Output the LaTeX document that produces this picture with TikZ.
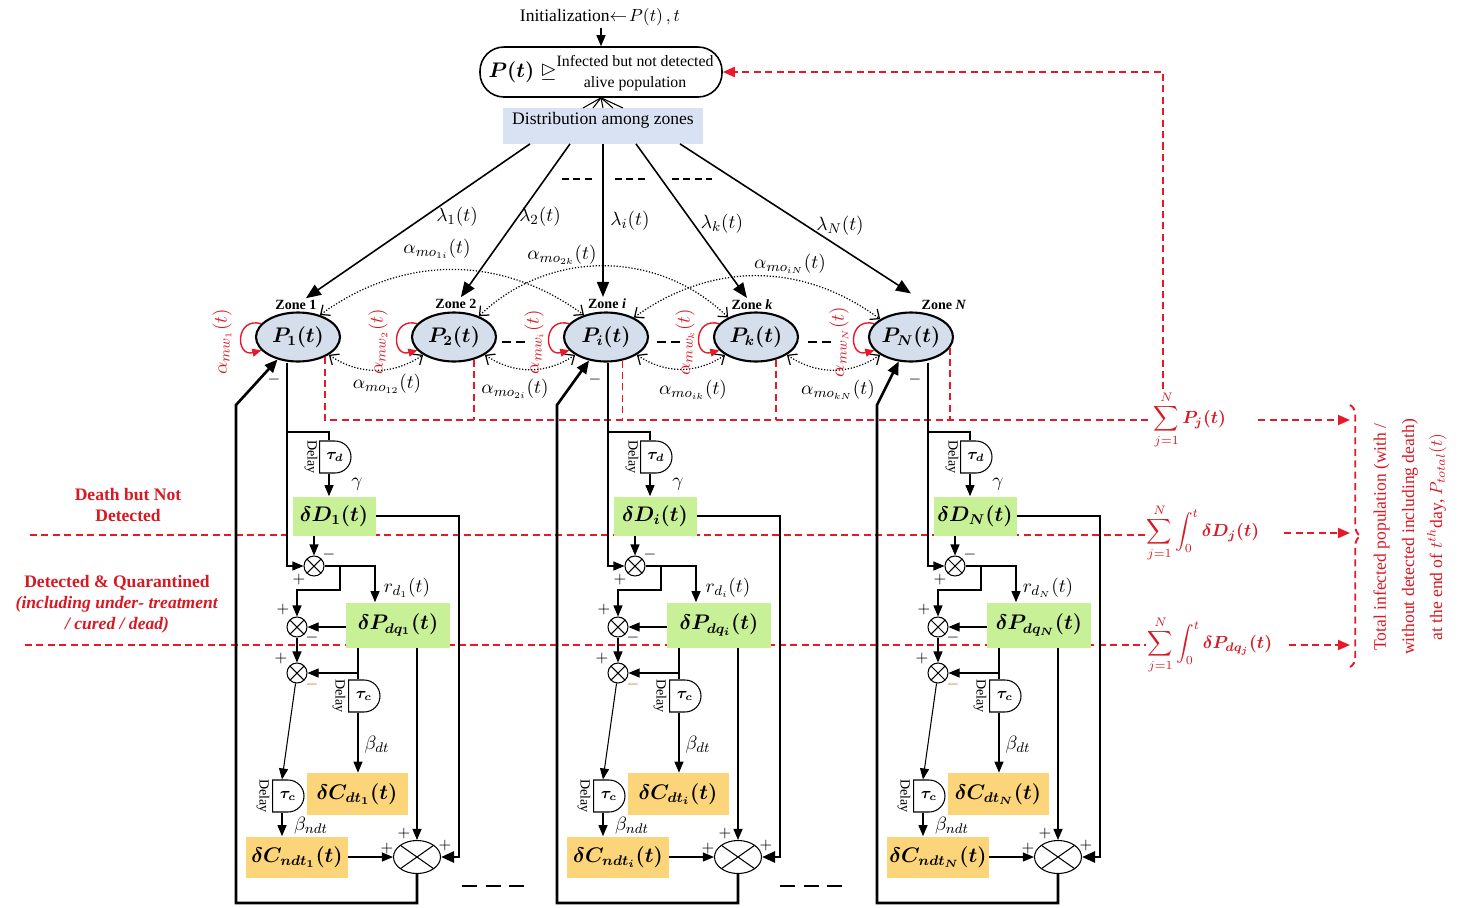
\documentclass[tikz,border=0pt]{standalone}
\usepackage{amsmath}
\usepackage{amssymb}
\usepackage{bm}
\usepackage{fontspec}
\setmainfont{Liberation Serif}
\usetikzlibrary{arrows, arrows.meta}
\usetikzlibrary{calc}
\usetikzlibrary{shapes.geometric, shapes.misc}
\usetikzlibrary{decorations.pathreplacing}

\definecolor{zonefill}{RGB}{213,222,235}
\definecolor{distfill}{RGB}{217,226,242}
\definecolor{grnfill}{RGB}{200,240,150}
\definecolor{yelfill}{RGB}{252,213,122}
\definecolor{dashred}{RGB}{232,24,40}
\definecolor{txtred}{RGB}{215,25,35}

\tikzset{
  zone/.style={ellipse, draw, line width=1.2pt, fill=zonefill, minimum width=16.8mm, minimum height=9.8mm, inner sep=0pt, font=\large},
  zonelbl/.style={font=\footnotesize\bfseries, inner sep=1pt},
  grnbox/.style={rectangle, fill=grnfill, inner sep=0pt, font=\large},
  yelbox/.style={rectangle, fill=yelfill, inner sep=0pt, font=\large},
  delaybox/.style={rounded rectangle, rounded rectangle left arc=none, draw, line width=0.6pt, minimum width=4.8mm, minimum height=6.4mm, inner sep=0pt, font=\small},
  delaytxt/.style={rotate=-90, font=\footnotesize, inner sep=0pt},
  xsum/.style={circle, draw, line width=0.6pt, minimum size=4mm, inner sep=0pt,
    path picture={\draw[line width=0.6pt] (path picture bounding box.north west) -- (path picture bounding box.south east)
      (path picture bounding box.south west) -- (path picture bounding box.north east);}},
  bigsum/.style={xsum, ellipse, minimum width=9.4mm, minimum height=6.6mm},
  wire/.style={line width=0.6pt},
  arr/.style={line width=0.6pt, -{Triangle[length=2.2mm, width=1.8mm]}},
  thkarr/.style={line width=1.5pt, -{Triangle[length=2.6mm, width=2.2mm]}},
  lamarr/.style={line width=0.9pt, -{Triangle[length=3mm, width=2.4mm]}},
  moarc/.style={densely dotted, line width=0.7pt, {Straight Barb[length=1.5mm, width=2.6mm]}-{Straight Barb[length=1.5mm, width=2.6mm]}},
  mwloop/.style={dashred, line width=0.8pt, -{Triangle[length=1.8mm, width=1.6mm]}},
  rdash/.style={dashred, line width=1.1pt, dash pattern=on 4pt off 2.5pt},
  rarr/.style={rdash, -{Triangle[length=2.4mm, width=2mm]}},
  sgn/.style={font=\small, inner sep=0pt},
  mlbl/.style={font=\fontsize{11}{13}\selectfont, inner sep=1pt},
  redlbl/.style={text=txtred, font=\bfseries, align=center},
  etcs/.style={line width=1.1pt, dash pattern=on 4pt off 2.5pt},
  etcz/.style={line width=1.5pt, dash pattern=on 5pt off 3pt},
  etcb/.style={line width=1.5pt, dash pattern=on 8.5pt off 5pt}
}

\begin{document}
\begin{tikzpicture}[x=0.2mm, y=0.2mm]
  \useasboundingbox (0,0) rectangle (1469,-907);

  % initialisation and distribution
  \node[inner sep=1pt] (init) at (600,-17) {Initialization$\leftarrow\!P(t)\,,t$};
  \node[rectangle, rounded corners=4.8mm, draw, line width=0.9pt, minimum width=48.4mm, minimum height=10mm, inner sep=1pt] (pop) at (601,-72)
    {\large$\bm{P(t)}\trianglerighteq$\begin{tabular}{@{}c@{}}\small Infected but not detected\\[-2pt] \small alive population\end{tabular}};
  \node[fill=distfill, minimum width=40mm, text depth=3mm, inner ysep=0.8mm, anchor=north] (dist) at (603,-108) {Distribution among zones};
  \draw[arr] (init.south -| pop.north) -- (pop.north);
  \foreach \dx in {-20,-10,0,10,20}
    \draw[wire] ($(dist.north)+(\dx,0)$) -- (pop.south);

  % zones
  \foreach \n/\x in {1/298, 2/454, i/606, k/756, N/911}
    \node[zone] (z\n) at (\x,-337) {$\bm{P_{\n}(t)}$};
  \node[zonelbl] (zl1) at (296,-305) {Zone 1};
  \node[zonelbl] (zl2) at (456,-304) {Zone 2};
  \node[zonelbl] (zli) at (607,-304) {Zone \textit{i}};
  \node[zonelbl] (zlk) at (752,-305) {Zone \textit{k}};
  \node[zonelbl] (zlN) at (944,-305) {Zone \textit{N}};

  \draw[lamarr] ([xshift=-14.6mm]dist.south) -- (zl1);
  \draw[lamarr] ([xshift=-6.6mm]dist.south) -- (zl2);
  \draw[lamarr] (dist.south) -- (dist.south |- zli.north);
  \draw[lamarr] ([xshift=6.6mm]dist.south) -- (zlk);
  \draw[lamarr] ([xshift=15.4mm]dist.south) -- ([yshift=3.6mm]zN.north);
  \node[mlbl] (lam1) at (457,-217) {$\lambda_1(t)$};
  \node[mlbl] (lam2) at (540,-217) {$\lambda_2(t)$};
  \node[mlbl] (lami) at (630,-221) {$\lambda_i(t)$};
  \node[mlbl] (lamk) at (722,-224) {$\lambda_k(t)$};
  \node[mlbl] (lamN) at (840,-226) {$\lambda_N(t)$};
  \draw[etcs] (562,-179) -- (593,-179);
  \draw[etcs] (615,-179) -- (646,-179);
  \draw[etcs] (672,-179) -- (712,-179);

  % movement between zones
  \draw[moarc] (z1.45) to[bend left=36] (zi.135);
  \draw[moarc] (z2.40) to[bend left=44] (zk.145);
  \draw[moarc] (zi.35) to[bend left=36] (zN.150);
  \draw[moarc] (z1.-30) to[bend right=34] (z2.-150);
  \draw[moarc] (z2.-30) to[bend right=34] (zi.-150);
  \draw[moarc] (zi.-30) to[bend right=34] (zk.-150);
  \draw[moarc] (zk.-30) to[bend right=34] (zN.-150);
  \node[mlbl] (mo1i) at (437,-249) {$\alpha_{mo_{1i}}(t)$};
  \node[mlbl] (mo2k) at (562,-255) {$\alpha_{mo_{2k}}(t)$};
  \node[mlbl] (moiN) at (790,-264) {$\alpha_{mo_{iN}}(t)$};
  \node[mlbl] (mo12) at (387,-384) {$\alpha_{mo_{12}}(t)$};
  \node[mlbl] (mo2i) at (515,-389) {$\alpha_{mo_{2i}}(t)$};
  \node[mlbl] (moik) at (693,-390) {$\alpha_{mo_{ik}}(t)$};
  \node[mlbl] (mokN) at (838,-390) {$\alpha_{mo_{kN}}(t)$};

  \foreach \n/\lx in {1/222, 2/378, i/534, k/685, N/839}{
    \draw[mwloop] (z\n.160) to[out=165, in=195, looseness=2.6] (z\n.200);
    \node[mlbl, text=txtred, rotate=90] (mw\n) at (\lx,-342) {$\alpha_{mw_{\n}}(t)$};
  }
  \draw[etcz] (502,-342) -- (525,-342);
  \draw[etcz] (657,-342) -- (680,-342);
  \draw[etcz] (808,-342) -- (832,-342);

  % totals
  \node[text=txtred, inner sep=1pt] (sumP) at (1190,-420) {$\displaystyle\sum_{j=1}^{N}\bm{P_j(t)}$};
  \node[text=txtred, inner sep=1pt] (sumD) at (1203,-533) {$\displaystyle\sum_{j=1}^{N}\int_0^t\bm{\delta D_j(t)}$};
  \node[text=txtred, inner sep=1pt] (sumQ) at (1210,-645) {$\displaystyle\sum_{j=1}^{N}\int_0^t\bm{\delta P_{dq_j}(t)}$};
  \coordinate (lD) at (30,-535);
  \coordinate (lQ) at (25,-645);
  \coordinate (brt) at (1350,-405);
  \coordinate (brb) at (1350,-667);
  \draw[rdash] (z1.-37) -- (z1.-37 |- sumP.west) -- (sumP.west);
  \foreach \n/\a in {2/-48, i/-55, k/-48, N/-15}
    \draw[rdash] (z\n.\a) -- (z\n.\a |- sumP.west);
  \draw[rarr] ([xshift=-5.4mm]sumP.north) |- (pop.east);
  \draw[rdash] (lD) -- (lD -| sumD.west);
  \draw[rdash] (lQ) -- (lQ -| sumQ.west);
  \draw[rarr, shorten <=6mm] (sumP.east) -- (sumP.east -| brt);
  \draw[rarr, shorten <=4.6mm] (sumD.east) -- (sumD.east -| brt);
  \draw[rarr, shorten <=3mm] (sumQ.east) -- (sumQ.east -| brt);
  \draw[rdash, decorate, decoration={brace, amplitude=6pt}] (brt) -- (brb);
  \node[text=txtred, rotate=90, align=center, font=\fontsize{10}{16}\selectfont] (tot) at (1410,-537)
    {Total infected population (with /\\without detected including death)\\at the end of $t^{th}$day, $P_{total}(t)$};

  \node[redlbl] (ddnd) at (128,-505) {Death but Not\\Detected};
  \node[redlbl] (dq) at (117,-604) {Detected \& Quarantined\\\textit{(including under- treatment}\\\textit{/ cured / dead)}};

  % one column per zone 1, i, N
  \foreach \col/\o in {1/0, i/321, N/641}{
    \begin{scope}[shift={(\o,0)}]
      \coordinate (br\col) at (287,-432);
      \coordinate (xd\col) at (329,-432);
      \coordinate (xb\col) at (340,-590);
      \coordinate (xr\col) at (375,-566);
      \coordinate (xc\col) at (358,-673);
      \coordinate (xn\col) at (282,-780);
      \coordinate (xe\col) at (459,-857);
      \coordinate (fb\col) at (236,-903);
      \coordinate (fu\col) at (236,-405);

      \node[delaybox] (td\col) at (335,-457) {$\bm{\tau_d}$};
      \node[delaytxt] (dla\col) at (311,-457) {Delay};
      \node[grnbox, minimum width=16.6mm, minimum height=7.8mm] (dD\col) at (334,-516) {$\bm{\delta D_{\col}(t)}$};
      \node[mlbl] (gm\col) at (357,-484) {$\gamma$};
      \node[xsum] (s1\col) at (314,-566) {};
      \node[xsum] (s2\col) at (297,-627) {};
      \node[xsum] (s3\col) at (297,-673) {};
      \node[grnbox, minimum width=20.8mm, minimum height=9mm] (dP\col) at (398,-625) {$\bm{\delta P_{dq_{\col}}(t)}$};
      \node[mlbl] (rd\col) at (407,-588) {$r_{d_{\col}}(t)$};
      \node[delaybox] (tc\col) at (364,-696) {$\bm{\tau_c}$};
      \node[delaytxt] (dlb\col) at (339,-696) {Delay};
      \node[mlbl] (bd\col) at (377,-745) {$\beta_{dt}$};
      \node[yelbox, minimum width=20.2mm, minimum height=8.4mm] (dCd\col) at (357,-794) {$\bm{\delta C_{dt_{\col}}(t)}$};
      \node[delaybox] (tn\col) at (288,-796) {$\bm{\tau_c}$};
      \node[delaytxt] (dlc\col) at (263,-796) {Delay};
      \node[mlbl] (bn\col) at (311,-826) {$\beta_{ndt}$};
      \node[yelbox, minimum width=20.4mm, minimum height=8.2mm] (dCn\col) at (297,-857) {$\bm{\delta C_{ndt_{\col}}(t)}$};
      \node[bigsum] (bs\col) at (417,-857) {};

      \node[sgn] (m1\col) at (329,-555) {$-$};
      \node[sgn] (p1\col) at (299,-580) {$+$};
      \node[sgn] (p2\col) at (283,-610) {$+$};
      \node[sgn] (m2\col) at (312,-638) {$-$};
      \node[sgn] (p3\col) at (281,-659) {$+$};
      \node[sgn, text=orange!80!black] (m3\col) at (312,-685) {$-$};
      \node[sgn] (p4\col) at (404,-834) {$+$};
      \node[sgn] (p5\col) at (387,-849) {$+$};
      \node[sgn] (p6\col) at (445,-846) {$+$};
      \node[sgn] (m4\col) at (274,-380) {$-$};

      \draw[arr] (z\col.south -| br\col) -- (br\col) |- (s1\col);
      \draw[wire] (br\col) -- (xd\col) -- (td\col.north -| xd\col);
      \draw[arr] (td\col.south -| xd\col) -- (dD\col.north -| xd\col);
      \draw[arr] (dD\col.south -| s1\col) -- (s1\col);
      \draw[arr] (s1\col) -- (xr\col) -- (xr\col |- dP\col.north);
      \draw[arr] (xb\col |- s1\col) -- (xb\col) -| (s2\col);
      \draw[arr] (dP\col.west |- s2\col) -- (s2\col);
      \draw[arr] (s2\col) -- (s3\col);
      \draw[wire] (dP\col.south -| xc\col) -- (tc\col.north -| xc\col);
      \draw[arr] (xc\col) -- (s3\col);
      \draw[arr] (tc\col.south -| xc\col) -- (dCd\col.north -| xc\col);
      \draw[arr] (s3\col) -- (tn\col.north -| xn\col);
      \draw[arr] (tn\col.south -| xn\col) -- (dCn\col.north -| xn\col);
      \draw[arr] (dCn\col) -- (bs\col);
      \draw[arr] (dP\col.south -| bs\col) -- (bs\col);
      \draw[thkarr] (dD\col.east) -| (xe\col) -- (bs\col);
      \draw[thkarr] (bs\col) |- (fb\col) -- (fu\col) -- (z\col);
    \end{scope}
  }
  \draw[etcb] (462,-886) -- (525,-886);
  \draw[etcb] (780,-886) -- (842,-886);
\end{tikzpicture}
\end{document}
